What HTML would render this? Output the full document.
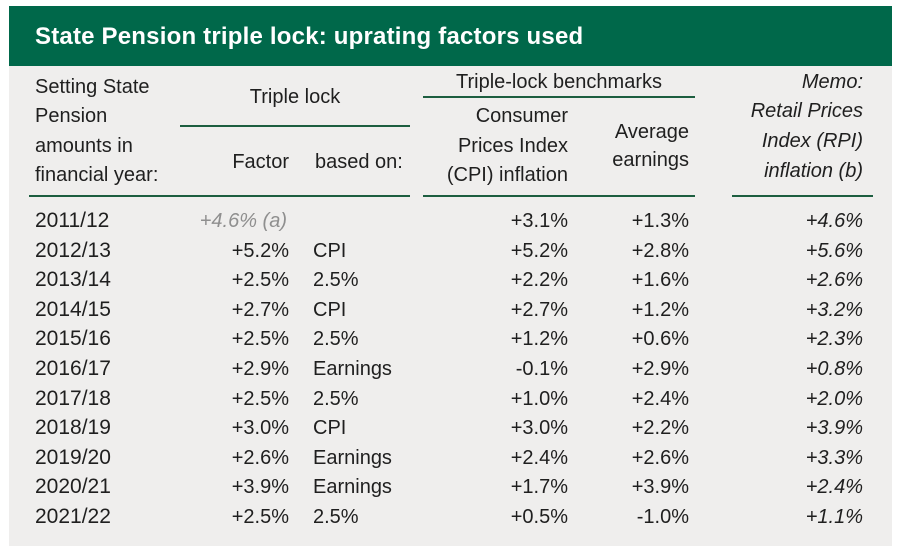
<!DOCTYPE html>
<html>
<head>
<meta charset="utf-8">
<style>
  html, body { margin:0; padding:0; background:#ffffff; }
  body { width:902px; height:551px; position:relative; overflow:hidden;
         font-family:"Liberation Sans", Arial, sans-serif; color:#1f1f1f; }
  .hdr { position:absolute; left:9px; top:6px; width:883px; height:60px; background:#00684a; }
  .title { position:absolute; left:35px; top:22px; font-size:24px; font-weight:bold; color:#ffffff;
           letter-spacing:0.2px; line-height:30px; white-space:nowrap; }
  .body { position:absolute; left:9px; top:66px; width:883px; height:480px; background:#efeeed; }
  .t { position:absolute; font-size:20px; line-height:30px; height:30px; white-space:nowrap; }
  .y { font-size:21px; }
  .r { text-align:right; }
  .i { font-style:italic; }
  .g { color:#8f8f8f; }
  .ln { position:absolute; height:2px; background:#1d5e40; }
</style>
</head>
<body>
<div class="hdr"></div>
<div class="title">State Pension triple lock: uprating factors used</div>
<div class="body"></div>

<!-- header col 1 -->
<div class="t" style="left:35px; top:72px;">Setting State</div>
<div class="t" style="left:35px; top:101px;">Pension</div>
<div class="t" style="left:35px; top:131px;">amounts in</div>
<div class="t" style="left:35px; top:160px;">financial year:</div>

<!-- triple lock -->
<div class="t" style="left:180px; width:230px; text-align:center; top:82px;">Triple lock</div>
<div class="ln" style="left:180px; width:230px; top:125px;"></div>
<div class="t r" style="right:613px; top:147px;">Factor</div>
<div class="t" style="left:315px; top:147px;">based on:</div>

<!-- benchmarks -->
<div class="t" style="left:423px; width:272px; text-align:center; top:67px;">Triple-lock benchmarks</div>
<div class="ln" style="left:423px; width:272px; top:96px;"></div>
<div class="t r" style="right:334px; top:101px;">Consumer</div>
<div class="t r" style="right:334px; top:131px;">Prices Index</div>
<div class="t r" style="right:334px; top:160px;">(CPI) inflation</div>
<div class="t r" style="right:213px; top:117px;">Average</div>
<div class="t r" style="right:213px; top:145px;">earnings</div>

<!-- memo -->
<div class="t r i" style="right:39px; top:67px;">Memo:</div>
<div class="t r i" style="right:39px; top:96px;">Retail Prices</div>
<div class="t r i" style="right:39px; top:126px;">Index (RPI)</div>
<div class="t r i" style="right:39px; top:156px;">inflation (b)</div>

<!-- header bottom rules -->
<div class="ln" style="left:29px; width:381px; top:195px;"></div>
<div class="ln" style="left:423px; width:272px; top:195px;"></div>
<div class="ln" style="left:732px; width:141px; top:195px;"></div>

<!-- data rows -->
<div class="t y" style="left:35px; top:206px;">2011/12</div>
<div class="t r i g" style="right:615px; top:206px;">+4.6% (a)</div>
<div class="t r" style="right:334px; top:206px;">+3.1%</div>
<div class="t r" style="right:213px; top:206px;">+1.3%</div>
<div class="t r i" style="right:39px; top:206px;">+4.6%</div>

<div class="t y" style="left:35px; top:236px;">2012/13</div>
<div class="t r" style="right:613px; top:236px;">+5.2%</div>
<div class="t" style="left:313px; top:236px;">CPI</div>
<div class="t r" style="right:334px; top:236px;">+5.2%</div>
<div class="t r" style="right:213px; top:236px;">+2.8%</div>
<div class="t r i" style="right:39px; top:236px;">+5.6%</div>

<div class="t y" style="left:35px; top:265px;">2013/14</div>
<div class="t r" style="right:613px; top:265px;">+2.5%</div>
<div class="t" style="left:313px; top:265px;">2.5%</div>
<div class="t r" style="right:334px; top:265px;">+2.2%</div>
<div class="t r" style="right:213px; top:265px;">+1.6%</div>
<div class="t r i" style="right:39px; top:265px;">+2.6%</div>

<div class="t y" style="left:35px; top:295px;">2014/15</div>
<div class="t r" style="right:613px; top:295px;">+2.7%</div>
<div class="t" style="left:313px; top:295px;">CPI</div>
<div class="t r" style="right:334px; top:295px;">+2.7%</div>
<div class="t r" style="right:213px; top:295px;">+1.2%</div>
<div class="t r i" style="right:39px; top:295px;">+3.2%</div>

<div class="t y" style="left:35px; top:324px;">2015/16</div>
<div class="t r" style="right:613px; top:324px;">+2.5%</div>
<div class="t" style="left:313px; top:324px;">2.5%</div>
<div class="t r" style="right:334px; top:324px;">+1.2%</div>
<div class="t r" style="right:213px; top:324px;">+0.6%</div>
<div class="t r i" style="right:39px; top:324px;">+2.3%</div>

<div class="t y" style="left:35px; top:354px;">2016/17</div>
<div class="t r" style="right:613px; top:354px;">+2.9%</div>
<div class="t" style="left:313px; top:354px;">Earnings</div>
<div class="t r" style="right:334px; top:354px;">-0.1%</div>
<div class="t r" style="right:213px; top:354px;">+2.9%</div>
<div class="t r i" style="right:39px; top:354px;">+0.8%</div>

<div class="t y" style="left:35px; top:384px;">2017/18</div>
<div class="t r" style="right:613px; top:384px;">+2.5%</div>
<div class="t" style="left:313px; top:384px;">2.5%</div>
<div class="t r" style="right:334px; top:384px;">+1.0%</div>
<div class="t r" style="right:213px; top:384px;">+2.4%</div>
<div class="t r i" style="right:39px; top:384px;">+2.0%</div>

<div class="t y" style="left:35px; top:413px;">2018/19</div>
<div class="t r" style="right:613px; top:413px;">+3.0%</div>
<div class="t" style="left:313px; top:413px;">CPI</div>
<div class="t r" style="right:334px; top:413px;">+3.0%</div>
<div class="t r" style="right:213px; top:413px;">+2.2%</div>
<div class="t r i" style="right:39px; top:413px;">+3.9%</div>

<div class="t y" style="left:35px; top:443px;">2019/20</div>
<div class="t r" style="right:613px; top:443px;">+2.6%</div>
<div class="t" style="left:313px; top:443px;">Earnings</div>
<div class="t r" style="right:334px; top:443px;">+2.4%</div>
<div class="t r" style="right:213px; top:443px;">+2.6%</div>
<div class="t r i" style="right:39px; top:443px;">+3.3%</div>

<div class="t y" style="left:35px; top:472px;">2020/21</div>
<div class="t r" style="right:613px; top:472px;">+3.9%</div>
<div class="t" style="left:313px; top:472px;">Earnings</div>
<div class="t r" style="right:334px; top:472px;">+1.7%</div>
<div class="t r" style="right:213px; top:472px;">+3.9%</div>
<div class="t r i" style="right:39px; top:472px;">+2.4%</div>

<div class="t y" style="left:35px; top:502px;">2021/22</div>
<div class="t r" style="right:613px; top:502px;">+2.5%</div>
<div class="t" style="left:313px; top:502px;">2.5%</div>
<div class="t r" style="right:334px; top:502px;">+0.5%</div>
<div class="t r" style="right:213px; top:502px;">-1.0%</div>
<div class="t r i" style="right:39px; top:502px;">+1.1%</div>
</body>
</html>
